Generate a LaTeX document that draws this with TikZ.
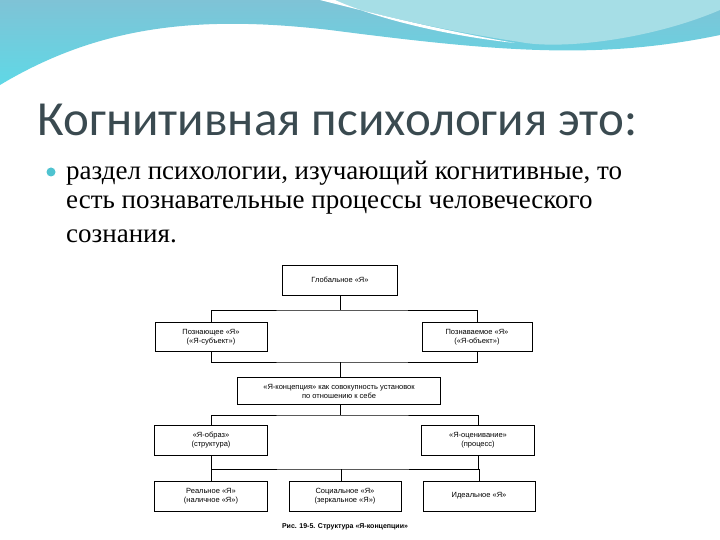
\documentclass[tikz,border=0pt]{standalone}
\usepackage{fontspec}
\setmainfont{Liberation Serif}
\newfontfamily\titlefont{Carlito}
\newfontfamily\boxfont{Liberation Sans}
\usetikzlibrary{positioning}
\definecolor{wavedark}{HTML}{7FC3D6}
\definecolor{wavecyan}{HTML}{5FD8E6}
\definecolor{wavelight}{HTML}{A6DEE6}
\definecolor{titlegray}{HTML}{3A4A50}
\definecolor{bulletcol}{HTML}{4FC3D0}

\begin{document}
\begin{tikzpicture}[x=1pt, y=-1pt,
  block/.style={
    % The shape:
    rectangle, draw=black, thick,
    % The size:
    inner sep=1pt,
    % Font
    font=\boxfont\fontsize{7.5}{9}\selectfont,
    align=center},
  link/.style={draw=black, thick}]

  \useasboundingbox (0,0) rectangle (720,540);
  % top wave
  \shade[top color=wavedark, bottom color=wavecyan] (0,0) -- (720,0) -- (720,35)
    .. controls (600,60) and (500,52) .. (330,30)
    .. controls (200,15) and (100,25) .. (0,85) -- cycle;
  \fill[wavelight] (320,0) -- (720,0) -- (720,10)
    .. controls (650,40) and (560,50) .. (520,42)
    .. controls (440,30) and (380,15) .. (320,0) -- cycle;
  \fill[white] (320,0) .. controls (380,15) and (440,30) .. (515,43)
    .. controls (450,36) and (380,20) .. (335,0) -- cycle;

  \node (title) [anchor=west, text=titlegray, font=\titlefont\fontsize{49}{52}\selectfont] at (34,120) {Когнитивная психология это:};
  \fill[bulletcol] (51,172) circle (4.5);
  \node (line1) [anchor=west, inner sep=0, font=\fontsize{27}{30}\selectfont] at (66,173) {раздел психологии, изучающий когнитивные, то};
  \node (line2) [anchor=west, inner sep=0, font=\fontsize{27}{30}\selectfont] at (66,205) {есть познавательные процессы человеческого};
  \node (line3) [anchor=west, inner sep=0, font=\fontsize{27}{30}\selectfont] at (66,236) {сознания.};

  % scheme
  \node (global) [block, minimum width=115, minimum height=30] at (340,280) {Глобальное «Я»};
  \node (subj) [block, minimum width=112, minimum height=29] at (211,337) {Познающее «Я»\\(«Я-субъект»)};
  \node (obj) [block, minimum width=110, minimum height=29] at (477,337) {Познаваемое «Я»\\(«Я-объект»)};
  \node (concept) [block, minimum width=203, minimum height=27] at (339,391) {«Я-концепция» как совокупность установок\\по отношению к себе};
  \node (image) [block, minimum width=113, minimum height=30] at (211,440) {«Я-образ»\\(структура)};
  \node (eval) [block, minimum width=113, minimum height=30] at (478,440) {«Я-оценивание»\\(процесс)};
  \node (real) [block, minimum width=113, minimum height=30] at (211,496) {Реальное «Я»\\(наличное «Я»)};
  \node (social) [block, minimum width=112, minimum height=30] at (345,496) {Социальное «Я»\\(зеркальное «Я»)};
  \node (ideal) [block, minimum width=112, minimum height=30] at (479,496) {Идеальное «Я»};
  \node (caption) [font=\boxfont\bfseries\fontsize{7}{8}\selectfont] at (345,527) {Рис. 19-5. Структура «Я-концепции»};

  \coordinate (busA) at (340,310);
  \coordinate (busB) at (340,362);
  \coordinate (busC) at (340,415);
  \coordinate (busD) at (341,469);
  \draw[link] (global) -- (busA);
  \draw[link] (subj.north) |- (busA) -| (obj.north);
  \draw[link] (subj.south) |- (busB) -| (obj.south);
  \draw[link] (busB) -- (concept.north -| busB);
  \draw[link] (concept.south -| busC) -- (busC);
  \draw[link] (image.north) |- (busC) -| (eval.north);
  \draw[link] (image.south) |- (busD) -| (eval.south);
  \draw[link] (real.north) -- (image.south);
  \draw[link] (ideal.north) -- (ideal.north |- busD);
  \draw[link] (busD) -- (social.north -| busD);
\end{tikzpicture}
\end{document}
